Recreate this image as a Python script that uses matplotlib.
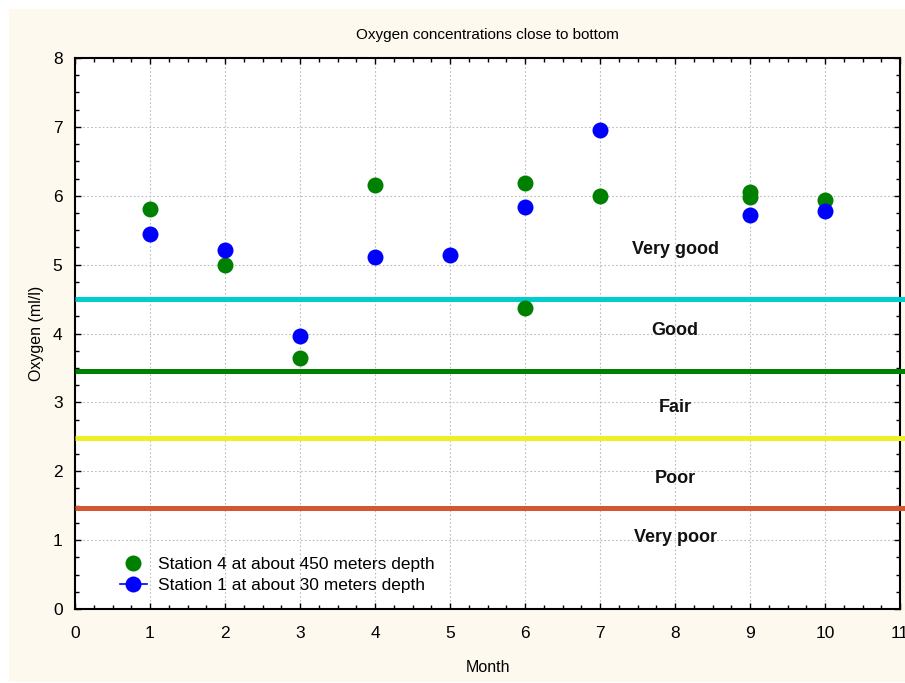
import matplotlib
matplotlib.use("Agg")
import matplotlib.pyplot as plt
from matplotlib.lines import Line2D
from matplotlib.patches import Rectangle
from matplotlib.ticker import MultipleLocator

plt.rcParams['font.family'] = ['Liberation Sans', 'DejaVu Sans']

# Data
st4_month = [1, 2, 3, 4, 6, 6, 7, 9, 9, 10]
st4_oxygen = [5.81, 4.99, 3.65, 6.16, 6.18, 4.37, 5.99, 6.06, 5.98, 5.94]
st1_month = [1, 2, 3, 4, 5, 6, 7, 9, 10]
st1_oxygen = [5.44, 5.21, 3.97, 5.11, 5.14, 5.83, 6.96, 5.72, 5.78]

limit_values = [4.50, 3.45, 2.48, 1.46]
limit_colors = ['#00CDCD', '#008000', '#EEF022', '#D35733']

class_labels = ['Very good', 'Good', 'Fair', 'Poor', 'Very poor']
class_y = [5.22, 4.05, 2.92, 1.90, 1.04]
class_x = 8.0

fig = plt.figure(figsize=(9.05, 6.83), dpi=100)
fig.patch.set_facecolor('white')
fig.patches.append(Rectangle((9/905, 1/683), 1, 673/683, transform=fig.transFigure,
                             facecolor='#FEF9EE', edgecolor='none', zorder=-10))

ax = fig.add_axes([75/905, 1 - 609/683, 825/905, 551/683])
ax.set_facecolor('white')
ax.set_xlim(0, 11)
ax.set_ylim(0, 8)

for v, c in zip(limit_values, limit_colors):
    ax.plot([0, 11.2], [v, v], color=c, lw=3.6, clip_on=False, zorder=3,
            solid_capstyle='butt')

ax.plot(st4_month, st4_oxygen, 'o', color='#008000', ms=11.5, mec='none', zorder=4)
ax.plot(st1_month, st1_oxygen, 'o', color='#0000FF', ms=11.5, mec='none', zorder=5)

for lab, y in zip(class_labels, class_y):
    ax.text(class_x, y, lab, ha='center', va='center', fontsize=13,
            fontweight='bold', color='#111111')

ax.xaxis.set_major_locator(MultipleLocator(1))
ax.yaxis.set_major_locator(MultipleLocator(1))
ax.xaxis.set_minor_locator(MultipleLocator(0.25))
ax.yaxis.set_minor_locator(MultipleLocator(0.25))
ax.tick_params(which='both', direction='in', top=True, right=True,
               labelsize=12.5, width=1, color='black')
ax.tick_params(which='major', length=4)
ax.tick_params(which='minor', length=3)
ax.tick_params(axis='x', which='major', pad=12)
ax.tick_params(axis='y', which='major', pad=9)
ax.grid(True, which='major', linestyle=(0, (1.5, 2)), color='#BBBBBB', lw=0.8)
ax.set_axisbelow(True)
for s in ax.spines.values():
    s.set_linewidth(1.5)

ax.set_title('Oxygen concentrations close to bottom', fontsize=11, pad=14)
ax.set_xlabel('Month', fontsize=11.5, labelpad=14)
ax.set_ylabel('Oxygen (ml/l)', fontsize=11.5, labelpad=6)

handles = [
    Line2D([], [], marker='o', color='#008000', ls='none', ms=11.5, mec='none'),
    Line2D([], [], marker='o', color='#0000FF', ls='-', lw=1.2, ms=11.5, mec='none'),
]
ax.legend(handles, ['Station 4 at about 450 meters depth', 'Station 1 at about 30 meters depth'],
          loc='lower left', bbox_to_anchor=(0.035, 0.0), frameon=False, fontsize=12.5,
          handlelength=1.6, handletextpad=0.6, labelspacing=0.35)

fig.savefig('out.png', dpi=100, facecolor=fig.get_facecolor())
